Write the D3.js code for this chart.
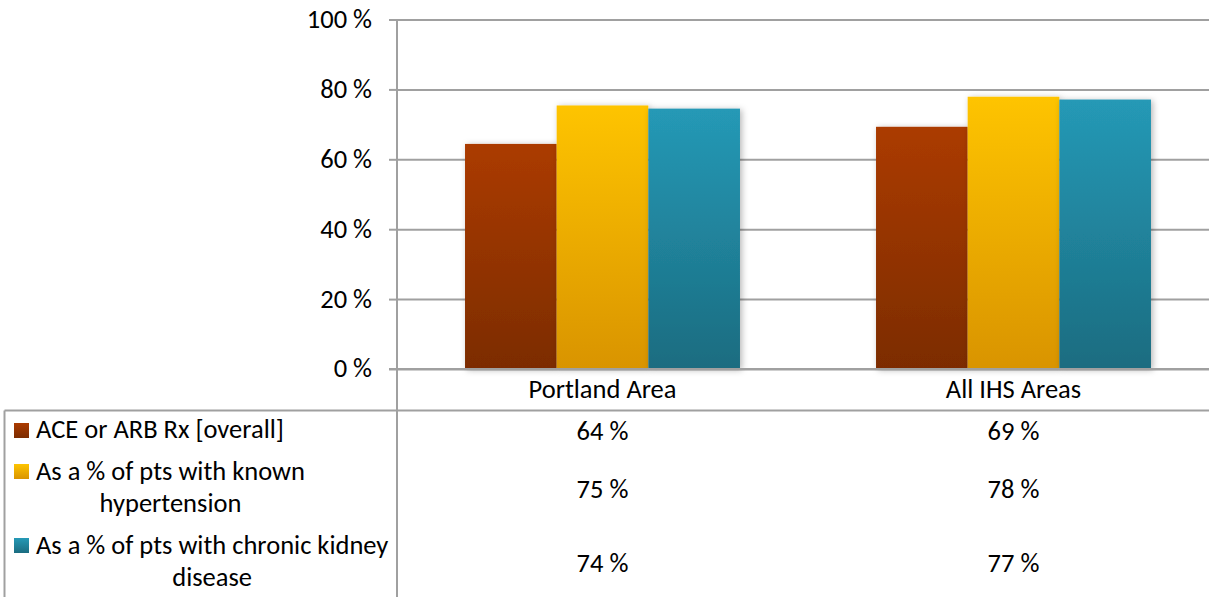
<!DOCTYPE html>
<html>
<head>
<meta charset="utf-8">
<script src="https://cdn.jsdelivr.net/npm/d3@7"></script>
<style>
  html, body { margin: 0; padding: 0; background: #fff; overflow: hidden; }
  svg { display: block; font-family: Carlito, Calibri, Lato, "Liberation Sans", sans-serif; }
</style>
</head>
<body>
<svg id="chart" width="1209" height="597"></svg>
<script>
// ---- data ----
const categories = ["Portland Area", "All IHS Areas"];
const seriesNames = [
  ["ACE or ARB Rx [overall]"],
  ["As a % of pts with known", "hypertension"],
  ["As a % of pts with chronic kidney", "disease"]
];
const aceArb = [64.4, 69.3];
const knownHypertension = [75.4, 77.9];
const chronicKidney = [74.5, 77.1];
const tableLabels = [["64 %", "69 %"], ["75 %", "78 %"], ["74 %", "77 %"]];
const yTicks = [0, 20, 40, 60, 80, 100];
const yTickLabels = ["0 %", "20 %", "40 %", "60 %", "80 %", "100 %"];

const seriesValues = [aceArb, knownHypertension, chronicKidney];
const colors = [
  { top: "#AB3B00", bottom: "#7C2C00" },
  { top: "#FEC400", bottom: "#D99400" },
  { top: "#2599B6", bottom: "#1B6C80" }
];

const svg = d3.select("#chart");
const defs = svg.append("defs");
colors.forEach((c, i) => {
  const g = defs.append("linearGradient").attr("id", "grad" + i)
    .attr("x1", 0).attr("y1", 0).attr("x2", 0).attr("y2", 1);
  g.append("stop").attr("offset", "0%").attr("stop-color", c.top);
  g.append("stop").attr("offset", "100%").attr("stop-color", c.bottom);
});
const f = defs.append("filter").attr("id", "shadow")
  .attr("x", "-10%").attr("y", "-10%").attr("width", "130%").attr("height", "130%");
f.append("feDropShadow").attr("dx", 2).attr("dy", 1).attr("stdDeviation", 3)
  .attr("flood-color", "#000").attr("flood-opacity", 0.28);

const plotLeft = 397, plotRight = 1219, plotTop = 19.5, plotBottom = 369;
const tableTop = 410.5, tableLeft = 4.5, H = 597;
const gridColor = "#a0a0a0";
const fs = 26.5;

const x = d3.scaleBand().domain(categories).range([plotLeft, plotRight])
  .paddingInner(0.331).paddingOuter(0.1655);
const xs = d3.scaleBand().domain(d3.range(seriesValues.length)).range([0, x.bandwidth()]);
const y = d3.scaleLinear().domain([0, 100]).range([plotBottom, plotTop]);

// gridlines + ticks via axis
const yAxis = d3.axisLeft(y).tickValues(yTicks)
  .tickSize(-(plotRight - plotLeft)).tickFormat((d, i) => yTickLabels[i]).tickPadding(25);
const ga = svg.append("g").attr("transform", `translate(${plotLeft},0)`).call(yAxis)
  .attr("font-family", null).attr("font-size", null);
ga.select(".domain").remove();
ga.selectAll(".tick line").attr("stroke", gridColor).attr("stroke-width", 2);
ga.selectAll(".tick").append("line").attr("x1", -8).attr("x2", 0)
  .attr("stroke", gridColor).attr("stroke-width", 2);
ga.selectAll(".tick text").attr("font-size", fs).attr("fill", "#000").attr("dy", "0.3em");

// bars
const groups = svg.append("g").selectAll("g").data(categories).join("g")
  .attr("transform", d => `translate(${x(d)},0)`);
groups.selectAll("rect")
  .data((c, ci) => seriesValues.map((vals, si) => ({ si, v: vals[ci] })))
  .join("rect")
  .attr("x", d => xs(d.si))
  .attr("width", xs.bandwidth())
  .attr("y", d => y(d.v))
  .attr("height", d => y(0) - y(d.v))
  .attr("fill", d => `url(#grad${d.si})`)
  .attr("filter", "url(#shadow)");

// redraw 0% line over bars base
svg.append("line").attr("x1", plotLeft - 8).attr("x2", plotRight)
  .attr("y1", y(0)).attr("y2", y(0)).attr("stroke", gridColor).attr("stroke-width", 2);

// axis vertical line through table
svg.append("line").attr("x1", plotLeft).attr("x2", plotLeft)
  .attr("y1", plotTop).attr("y2", H).attr("stroke", gridColor).attr("stroke-width", 2);
// table top and left border
svg.append("line").attr("x1", tableLeft).attr("x2", plotRight)
  .attr("y1", tableTop).attr("y2", tableTop).attr("stroke", gridColor).attr("stroke-width", 2);
svg.append("line").attr("x1", tableLeft).attr("x2", tableLeft)
  .attr("y1", tableTop).attr("y2", H).attr("stroke", gridColor).attr("stroke-width", 2);

// category labels
svg.append("g").selectAll("text").data(categories).join("text")
  .attr("x", d => x(d) + x.bandwidth() / 2).attr("y", 398)
  .attr("text-anchor", "middle").attr("font-size", fs).text(d => d);

// table rows
const rowBaselines = [440, 498, 572];
const legendBaselines = [[438], [480], [554]];
const secondBaselines = [null, 512, 586];
const swatchTops = [423, 464, 538];
seriesNames.forEach((lines, si) => {
  svg.append("rect").attr("x", 14).attr("y", swatchTops[si]).attr("width", 15).attr("height", 15)
    .attr("fill", `url(#grad${si})`);
  const t1 = svg.append("text").attr("x", 36).attr("y", legendBaselines[si][0])
    .attr("font-size", fs).text(lines[0]);
  if (lines.length > 1) {
    const w = t1.node().getComputedTextLength();
    svg.append("text").attr("x", 36 + w / 2).attr("y", secondBaselines[si])
      .attr("text-anchor", "middle").attr("font-size", fs).text(lines[1]);
  }
  categories.forEach((c, ci) => {
    svg.append("text").attr("x", x(c) + x.bandwidth() / 2).attr("y", rowBaselines[si])
      .attr("text-anchor", "middle").attr("font-size", fs).text(tableLabels[si][ci]);
  });
});
</script>
</body>
</html>
